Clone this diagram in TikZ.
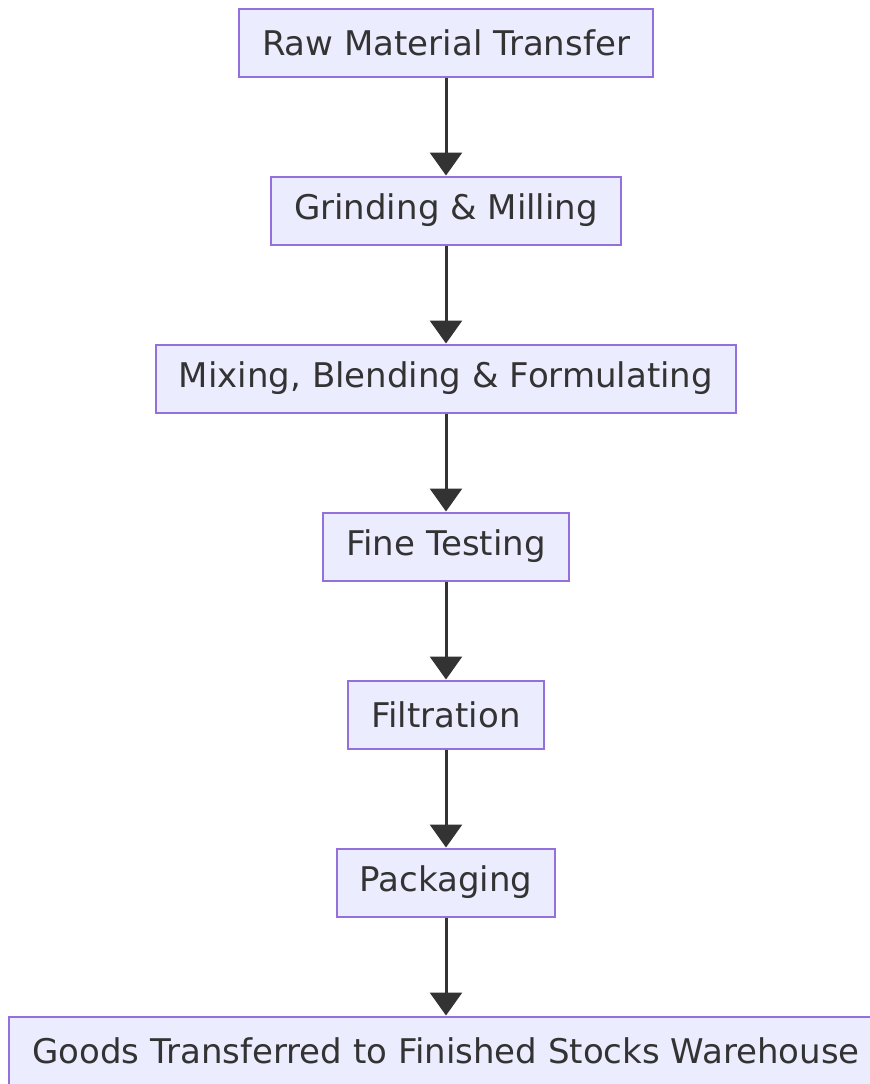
\documentclass[tikz,border=0pt]{standalone}
\usepackage{fontspec}
\setmainfont{DejaVu Sans}
\usetikzlibrary{positioning,arrows.meta}
\definecolor{boxfill}{HTML}{ECECFF}
\definecolor{boxline}{HTML}{9370DB}
\definecolor{ink}{HTML}{333333}
\begin{document}
\begin{tikzpicture}[node distance={49pt}, 
  stage/.style = {draw=boxline, fill=boxfill, line width=1pt, text=ink, font=\fontsize{17}{18}\selectfont, minimum height=34pt, inner xsep=11.5pt},
  flow/.style = {draw=ink, line width=1.5pt, -{Triangle[length=11.5pt,width=16pt]}}] 
  \useasboundingbox (0,0) rectangle (435pt,-542pt);
  \node[stage] (raw) at (223pt,-21.25pt) {Raw Material Transfer}; 
  \node[stage, below=of raw] (grind) {Grinding \& Milling}; 
  \node[stage, below=of grind] (mix) {Mixing, Blending \& Formulating}; 
  \node[stage, below=of mix] (test) {Fine Testing}; 
  \node[stage, below=of test] (filter) {Filtration}; 
  \node[stage, below=of filter] (pack) {Packaging}; 
  \node[stage, below=of pack] (goods) {Goods Transferred to Finished Stocks Warehouse}; 
  \draw[flow] (raw) -- (grind);
  \draw[flow] (grind) -- (mix);
  \draw[flow] (mix) -- (test);
  \draw[flow] (test) -- (filter);
  \draw[flow] (filter) -- (pack);
  \draw[flow] (pack) -- (goods);
\end{tikzpicture}
\end{document}
